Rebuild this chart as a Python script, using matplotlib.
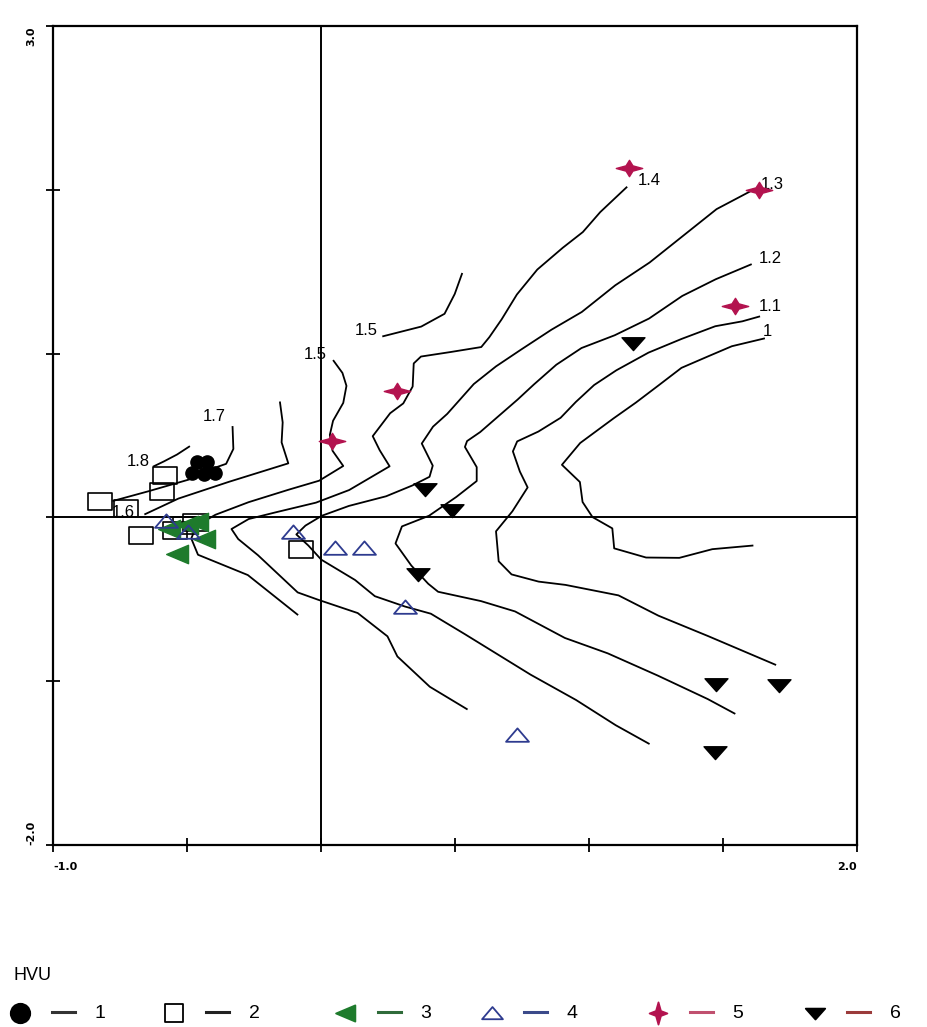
import matplotlib
matplotlib.use('Agg')
import matplotlib.pyplot as plt
from matplotlib.path import Path

plt.rcParams['font.family'] = ['Liberation Sans', 'DejaVu Sans']

# sample scores on ordination axes 1 and 2, one pair of lists per HVU group
hvu1_x = [-0.462, -0.425, -0.482, -0.437, -0.396]
hvu1_y = [0.340, 0.340, 0.273, 0.267, 0.272]

hvu2_x = [-0.583, -0.595, -0.823, -0.727, -0.672, -0.544, -0.469, -0.506, -0.073]
hvu2_y = [0.256, 0.159, 0.101, 0.057, -0.109, -0.074, -0.026, -0.044, -0.190]

hvu3_x = [-0.534, -0.432, -0.495, -0.458, -0.562]
hvu3_y = [-0.226, -0.130, -0.044, -0.026, -0.073]

hvu4_x = [-0.577, -0.495, -0.103, 0.054, 0.159, 0.313, 0.730]
hvu4_y = [-0.024, -0.087, -0.092, -0.186, -0.188, -0.550, -1.331]

hvu5_x = [1.148, 1.634, 1.546, 0.285, 0.040]
hvu5_y = [2.131, 1.996, 1.289, 0.769, 0.468]

hvu6_x = [1.166, 0.389, 0.489, 0.363, 1.473, 1.709, 1.470]
hvu6_y = [1.062, 0.176, 0.046, -0.343, -1.018, -1.022, -1.433]

# isolines of the fitted surface
iso10_x = [1.653, 1.533, 1.447, 1.345, 1.258, 1.175, 1.092, 0.967, 0.899, 0.966,
           0.976, 1.013, 1.087, 1.094, 1.213, 1.337, 1.460, 1.610]
iso10_y = [1.092, 1.045, 0.985, 0.913, 0.804, 0.701, 0.605, 0.454, 0.321, 0.216,
           0.094, 0.002, -0.067, -0.189, -0.245, -0.247, -0.194, -0.172]

iso11_x = [1.635, 1.572, 1.471, 1.346, 1.222, 1.102, 1.019, 0.951, 0.894, 0.811,
           0.732, 0.716, 0.742, 0.771, 0.714, 0.653, 0.663, 0.711, 0.812, 0.912,
           1.110, 1.259, 1.445, 1.695]
iso11_y = [1.226, 1.197, 1.167, 1.090, 1.006, 0.898, 0.808, 0.705, 0.608, 0.524,
           0.464, 0.403, 0.280, 0.183, 0.037, -0.085, -0.268, -0.348, -0.392, -0.412,
           -0.476, -0.600, -0.725, -0.899]

iso12_x = [1.604, 1.473, 1.348, 1.224, 1.096, 0.972, 0.878, 0.794, 0.734, 0.670,
           0.594, 0.545, 0.537, 0.581, 0.581, 0.505, 0.403, 0.302, 0.278, 0.337,
           0.400, 0.437, 0.597, 0.724, 0.910, 1.070, 1.257, 1.443, 1.543]
iso12_y = [1.544, 1.454, 1.352, 1.214, 1.112, 1.034, 0.932, 0.811, 0.720, 0.629,
           0.521, 0.466, 0.430, 0.307, 0.222, 0.125, 0.010, -0.055, -0.159, -0.294,
           -0.405, -0.454, -0.511, -0.574, -0.736, -0.830, -0.966, -1.109, -1.197]

iso13_x = [1.615, 1.476, 1.351, 1.226, 1.098, 0.973, 0.860, 0.747, 0.653, 0.570,
           0.471, 0.418, 0.376, 0.417, 0.405, 0.341, 0.243, 0.104, 0.003, -0.058,
           -0.092, -0.047, 0.001, 0.127, 0.201, 0.313, 0.410, 0.536, 0.659, 0.782,
           0.952, 1.100, 1.223]
iso13_y = [2.002, 1.882, 1.719, 1.556, 1.417, 1.254, 1.146, 1.025, 0.922, 0.814,
           0.632, 0.554, 0.451, 0.316, 0.248, 0.195, 0.129, 0.070, 0.010, -0.050,
           -0.104, -0.172, -0.258, -0.382, -0.481, -0.544, -0.588, -0.712, -0.836, -0.960,
           -1.115, -1.269, -1.381]

iso14_x = [1.140, 1.042, 0.977, 0.902, 0.807, 0.731, 0.674, 0.628, 0.598, 0.485,
           0.373, 0.346, 0.342, 0.307, 0.258, 0.193, 0.219, 0.256, 0.180, 0.105,
           -0.019, -0.169, -0.270, -0.334, -0.309, -0.235, -0.087, -0.012, 0.137, 0.248,
           0.285, 0.406, 0.544]
iso14_y = [2.015, 1.864, 1.742, 1.646, 1.513, 1.361, 1.209, 1.100, 1.040, 1.010,
           0.982, 0.940, 0.799, 0.696, 0.636, 0.496, 0.410, 0.312, 0.239, 0.167,
           0.090, 0.031, -0.010, -0.071, -0.132, -0.231, -0.458, -0.502, -0.584, -0.726,
           -0.849, -1.034, -1.170]

iso15a_x = [0.047, 0.080, 0.095, 0.083, 0.045, 0.033, 0.043, 0.083, -0.007, -0.119,
            -0.270, -0.394, -0.465, -0.484, -0.459, -0.273, -0.088]
iso15a_y = [0.956, 0.882, 0.803, 0.699, 0.590, 0.504, 0.407, 0.314, 0.224, 0.170,
            0.093, 0.016, -0.051, -0.129, -0.228, -0.352, -0.593]

iso15b_x = [0.232, 0.374, 0.461, 0.499, 0.526]
iso15b_y = [1.106, 1.165, 1.243, 1.364, 1.487]

iso16_x = [-0.153, -0.143, -0.147, -0.122, -0.344, -0.532, -0.656]
iso16_y = [0.702, 0.580, 0.458, 0.330, 0.217, 0.115, 0.020]

iso17_x = [-0.330, -0.327, -0.354, -0.407, -0.493, -0.643, -0.775]
iso17_y = [0.552, 0.418, 0.327, 0.297, 0.231, 0.160, 0.101]

iso18_x = [-0.492, -0.537, -0.586, -0.624]
iso18_y = [0.432, 0.384, 0.342, 0.312]

# isoline value labels and where they sit
iso_labels = ['1', '1.1', '1.2', '1.3', '1.4', '1.5', '1.5', '1.6', '1.7', '1.8']
iso_label_x = [1.665, 1.677, 1.676, 1.683, 1.223, -0.020, 0.168, -0.738, -0.397, -0.681]
iso_label_y = [1.134, 1.287, 1.580, 2.032, 2.056, 0.993, 1.143, 0.030, 0.614, 0.344]

groups = ['1', '2', '3', '4', '5', '6']


def marker(verts):
    return Path(verts + [verts[0]], closed=True)


box = marker([(-1, -0.72), (1, -0.72), (1, 0.72), (-1, 0.72)])
square = marker([(-1, -1), (1, -1), (1, 1), (-1, 1)])
tri_up = marker([(-1, -0.55), (1, -0.55), (0, 0.62)])
tri_left = marker([(-1, 0), (0.85, 0.78), (0.85, -0.78)])
tri_down = marker([(-1, 0.5), (1, 0.5), (0, -0.62)])
star4 = marker([(1, 0), (0.26, 0.2), (0, 0.62), (-0.26, 0.2), (-1, 0),
                (-0.26, -0.2), (0, -0.62), (0.26, -0.2)])
star4_tall = marker([(0.8, 0), (0.22, 0.22), (0, 1), (-0.22, 0.22), (-0.8, 0),
                     (-0.22, -0.22), (0, -1), (0.22, -0.22)])

crimson = '#b3134f'
green = '#1e7b2c'
navy = '#2e3b8f'

fig = plt.figure(figsize=(9.28, 10.27), dpi=100)
ax = fig.add_axes([53 / 928, 1 - 845 / 1027, 804 / 928, 819 / 1027])

ax.axhline(0, color='black', lw=1.4, zorder=1)
ax.axvline(0, color='black', lw=1.4, zorder=1)

isolines = [(iso10_x, iso10_y), (iso11_x, iso11_y), (iso12_x, iso12_y),
            (iso13_x, iso13_y), (iso14_x, iso14_y), (iso15a_x, iso15a_y),
            (iso15b_x, iso15b_y), (iso16_x, iso16_y), (iso17_x, iso17_y),
            (iso18_x, iso18_y)]
for xs, ys in isolines:
    ax.plot(xs, ys, color='black', lw=1.3, zorder=2, solid_joinstyle='round')

for lab, lx, ly in zip(iso_labels, iso_label_x, iso_label_y):
    ax.text(lx, ly, lab, fontsize=12, ha='center', va='center', zorder=3)

ax.plot(hvu1_x, hvu1_y, 'o', ms=9.5, color='black', ls='none', zorder=5)
ax.plot(hvu2_x, hvu2_y, marker=box, ms=17, mfc='none', mec='black', mew=1.2,
        ls='none', zorder=5)
ax.plot(hvu3_x, hvu3_y, marker=tri_left, ms=17, color=green, ls='none', zorder=6)
ax.plot(hvu4_x, hvu4_y, marker=tri_up, ms=16.5, mfc='none', mec=navy, mew=1.3,
        ls='none', zorder=6)
ax.plot(hvu5_x, hvu5_y, marker=star4, ms=19, color=crimson, ls='none', zorder=6)
ax.plot(hvu6_x, hvu6_y, marker=tri_down, ms=16.5, color='black', ls='none', zorder=6)

ax.set_xlim(-1.0, 2.0)
ax.set_ylim(-2.0, 3.0)
ax.set_xticks([-1.0, -0.5, 0.0, 0.5, 1.0, 1.5, 2.0])
ax.set_xticklabels(['-1.0', '', '', '', '', '', '2.0'])
ax.set_yticks([-2.0, -1.0, 0.0, 1.0, 2.0, 3.0])
ax.set_yticklabels(['-2.0', '', '', '', '', '3.0'], rotation=90)
ax.tick_params(direction='inout', length=10, width=1.3, pad=7)
for t in ax.get_xticklabels() + ax.get_yticklabels():
    t.set_fontfamily('DejaVu Sans')
    t.set_fontweight('bold')
    t.set_fontsize(8)
xt = ax.get_xticklabels()
xt[0].set_ha('left')
xt[-1].set_ha('right')
yt = ax.get_yticklabels()
yt[0].set_va('bottom')
yt[-1].set_va('top')
for side in ax.spines.values():
    side.set_linewidth(1.6)

# legend strip along the bottom, laid out in figure pixels
leg = fig.add_axes([0, 0, 1, 90 / 1027])
leg.set_xlim(0, 928)
leg.set_ylim(1027, 937)
leg.axis('off')
narrow = ['Liberation Sans Narrow', 'Liberation Sans']
leg.text(14, 976, 'HVU', fontsize=13, va='center', ha='left', family=narrow)

leg_x = [20, 174, 346, 492, 658, 815]
leg_marker = ['o', square, tri_left, tri_up, star4_tall, tri_down]
leg_face = ['black', 'none', green, 'none', crimson, 'black']
leg_edge = ['black', 'black', green, navy, crimson, 'black']
leg_dash = ['#333333', '#222222', '#2f6b3a', '#3b4a8a', '#c0506f', '#9b3b3b']
leg_size = [14, 13, 15, 15, 16, 14]
for i, g in enumerate(groups):
    x0 = leg_x[i]
    leg.plot([x0], [1013], marker=leg_marker[i], ms=leg_size[i], mfc=leg_face[i],
             mec=leg_edge[i], mew=1.3, ls='none')
    leg.plot([x0 + 32, x0 + 55], [1012, 1012], color=leg_dash[i], lw=2.2)
    leg.text(x0 + 80, 1014, g, fontsize=14, va='center', ha='center', family=narrow)

fig.savefig('out.png', dpi=100)
